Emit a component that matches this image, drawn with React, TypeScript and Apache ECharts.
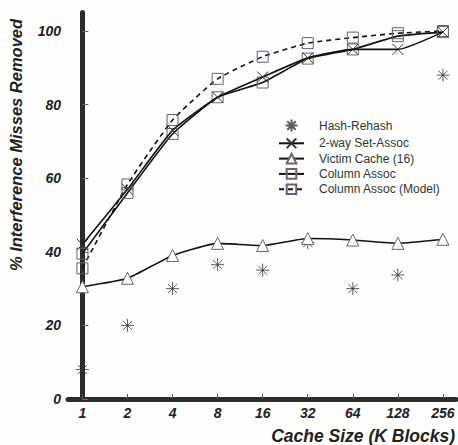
import React, { useEffect, useRef } from "react";
import * as echarts from "echarts";

const cacheSizes = ["1", "2", "4", "8", "16", "32", "64", "128", "256"];
const hashRehash = [8, 20, 30, 36.5, 35, 42.5, 30, 33.7, 88];
const twoWaySetAssoc = [42, 57, 73, 82, 87.5, 92.7, 95, 95, 99.7];
const victimCache = [30.5, 32.8, 39, 42.3, 41.7, 43.6, 43.2, 42.3, 43.4];
const columnAssoc = [39.5, 56, 72, 82, 86, 92.5, 95, 98.6, 99.7];
const columnAssocModel = [35.5, 58.3, 75.8, 87, 93, 96.7, 98.2, 99.4, 100];
const yTicks = [0, 20, 40, 60, 80, 100];

const FONT = "Liberation Sans, Arial, Helvetica, sans-serif";
const ASTERISK = "path://M0,-10L0,10M-10,0L10,0M-7,-7L7,7M-7,7L7,-7";
const CROSS = "path://M-10,-10L10,10M-10,10L10,-10";

const pairs = (arr: number[]) => arr.map((v, i) => [i, v]);

export default function App() {
  const ref = useRef<HTMLDivElement>(null);
  useEffect(() => {
    if (!ref.current) return;
    const chart = echarts.init(ref.current, null, { renderer: "svg" });
    const idx = cacheSizes.map((_, i) => i);
    chart.setOption({
      animation: false,
      backgroundColor: "#fefefc",
      grid: { left: 68, right: 2, top: 12.6, bottom: 46 },
      xAxis: {
        type: "value",
        min: -0.32,
        max: 8.29,
        splitLine: { show: false },
        axisLine: { lineStyle: { color: "#2a2d2a", width: 5 } },
        axisTick: { customValues: idx, inside: true, length: 5, lineStyle: { color: "#555", width: 1 } },
        axisLabel: {
          customValues: idx,
          formatter: (v: number) => cacheSizes[Math.round(v)],
          fontFamily: FONT,
          fontSize: 14,
          fontStyle: "italic",
          fontWeight: "bold",
          color: "#222",
          margin: 7,
        },
      },
      yAxis: {
        type: "value",
        min: 0,
        max: 105,
        splitLine: { show: false },
        axisLine: { show: true, lineStyle: { color: "#2a2d2a", width: 5 } },
        axisTick: { customValues: yTicks, inside: true, length: 6, lineStyle: { color: "#7a6a55", width: 1 } },
        axisLabel: {
          customValues: yTicks,
          fontFamily: FONT,
          fontSize: 14,
          fontStyle: "italic",
          fontWeight: "bold",
          color: "#222",
          margin: 7,
        },
      },
      legend: {
        orient: "vertical",
        left: 273,
        top: 112,
        itemWidth: 25,
        itemHeight: 12,
        itemGap: 3.3,
        textStyle: { fontFamily: FONT, fontSize: 12, color: "#2c3834", padding: [0, 0, 0, 10] },
        data: ["Hash-Rehash", "2-way Set-Assoc", "Victim Cache (16)", "Column Assoc", "Column Assoc (Model)"],
      },
      graphic: [
        {
          type: "text",
          x: 16,
          y: 145,
          rotation: Math.PI / 2,
          style: {
            text: "% Interference Misses Removed",
            fontFamily: FONT,
            fontSize: 16.5,
            fontStyle: "italic",
            fontWeight: "bold",
            fill: "#222",
            align: "center",
            verticalAlign: "middle",
          },
        },
        {
          type: "text",
          x: 455,
          y: 436,
          style: {
            text: "Cache Size (K Blocks)",
            fontFamily: FONT,
            fontSize: 17.5,
            fontStyle: "italic",
            fontWeight: "bold",
            fill: "#222",
            align: "right",
            verticalAlign: "middle",
          },
        },
      ],
      series: [
        {
          name: "Hash-Rehash",
          type: "scatter",
          data: pairs(hashRehash),
          symbol: ASTERISK,
          symbolSize: 13,
          symbolKeepAspect: true,
          itemStyle: { color: "none", borderColor: "#333", borderWidth: 1 },
        },
        {
          name: "2-way Set-Assoc",
          type: "line",
          data: pairs(twoWaySetAssoc),
          smooth: 0.15,
          symbol: CROSS,
          symbolSize: 11,
          lineStyle: { color: "#111", width: 1.6 },
          itemStyle: { color: "#fff", borderColor: "#333", borderWidth: 1 },
          z: 3,
        },
        {
          name: "Victim Cache (16)",
          type: "line",
          data: pairs(victimCache),
          smooth: 0.15,
          symbol: "triangle",
          symbolSize: 12,
          lineStyle: { color: "#111", width: 1.6 },
          itemStyle: { color: "#fff", borderColor: "#666", borderWidth: 1 },
          z: 2,
        },
        {
          name: "Column Assoc",
          type: "line",
          data: pairs(columnAssoc),
          smooth: 0.15,
          symbol: "rect",
          symbolSize: 11,
          lineStyle: { color: "#111", width: 1.6 },
          itemStyle: { color: "rgba(255,255,255,0)", borderColor: "#76606e", borderWidth: 1 },
          z: 2,
        },
        {
          name: "Column Assoc (Model)",
          type: "line",
          data: pairs(columnAssocModel),
          smooth: 0.15,
          symbol: "rect",
          symbolSize: 11,
          lineStyle: { color: "#111", width: 1.6, type: [5, 4] },
          itemStyle: { color: "rgba(255,255,255,0)", borderColor: "#6a5a78", borderWidth: 1 },
          z: 2,
        },
      ],
    });
    return () => chart.dispose();
  }, []);
  return (
    <div
      ref={ref}
      style={{ position: "fixed", left: 0, top: 0, width: 458, height: 445 }}
    />
  );
}
